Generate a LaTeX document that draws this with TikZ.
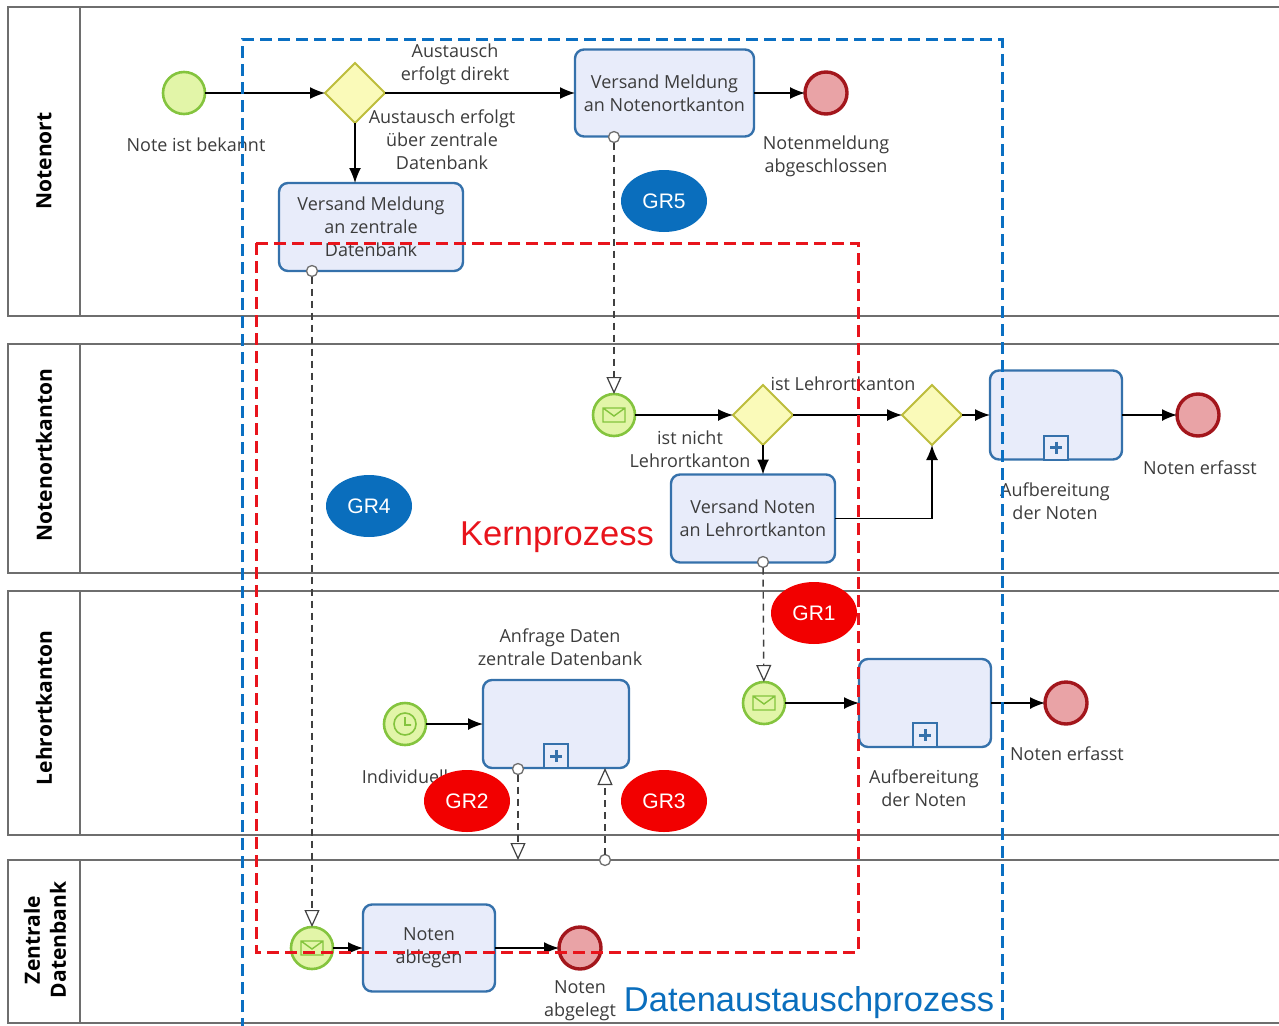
\documentclass[tikz,border=0pt]{standalone}
\usepackage{fontspec}
\setmainfont{Open Sans}
\newfontfamily\grfont{Liberation Sans}
\usetikzlibrary{positioning}
\usetikzlibrary{shapes.geometric,arrows.meta,calc}
\definecolor{poolgray}{HTML}{6E6E6E}
\definecolor{labelgray}{HTML}{3C3C3C}
\definecolor{msggray}{HTML}{404040}
\definecolor{startfill}{HTML}{E2F5A8}
\definecolor{startborder}{HTML}{84C43E}
\definecolor{endfill}{HTML}{E9A3A6}
\definecolor{endborder}{HTML}{A3161C}
\definecolor{gwfill}{HTML}{FAFAB9}
\definecolor{gwborder}{HTML}{BDBD3C}
\definecolor{taskfill}{HTML}{E8ECFA}
\definecolor{taskborder}{HTML}{3571AB}
\definecolor{blueframe}{HTML}{0A6FC2}
\definecolor{redframe}{HTML}{E8141C}
\definecolor{grblue}{HTML}{0A6EBD}
\definecolor{grred}{HTML}{F20000}
\newcommand{\eventsize}{42pt}
\newcommand{\gatewaysize}{60pt}
\newcommand{\taskheight}{88pt}
\newcommand{\subwidth}{132pt}
\newcommand{\grwidth}{86pt}
\newcommand{\grheight}{62pt}
\newcommand{\mailicon}[1]{%
  \draw[startborder, line width=1.4pt, shift={(#1.center)}]
    (-11,-7) rectangle (11,7) (-11,-7) -- (0,1) -- (11,-7);}
\newcommand{\clockicon}[1]{%
  \draw[startborder, line width=1.6pt, shift={(#1.center)}]
    (0,0) circle (11pt) (0,-7) -- (0,1) -- (6,1);}
\newcommand{\subplus}[1]{%
  \node[plusbox, anchor=south] (#1-plus) at (#1.south) {};
  \draw[taskborder, line width=3pt]
    ($(#1-plus.center)+(-6,0)$) -- ($(#1-plus.center)+(6,0)$)
    ($(#1-plus.center)+(0,-6)$) -- ($(#1-plus.center)+(0,6)$);}

\begin{document}
\begin{tikzpicture}[x=1pt, y=-1pt, node distance=4pt, outer sep=0pt,
    font=\fontsize{18}{23}\selectfont, text=labelgray]
\tikzstyle{pool}=[
    draw=poolgray,
    line width=1.6pt]
\tikzstyle{lanelabel}=[
    rotate=90,
    align=center,
    text=black,
    font=\bfseries\fontsize{21}{26}\selectfont]
\tikzstyle{startev}=[
    draw=startborder,
    fill=startfill,
    circle,
    line width=2.6pt,
    minimum size=\eventsize,
    inner sep=0pt]
\tikzstyle{endev}=[
    draw=endborder,
    fill=endfill,
    circle,
    line width=3.4pt,
    minimum size=\eventsize,
    inner sep=0pt]
\tikzstyle{gateway}=[
    draw=gwborder,
    fill=gwfill,
    diamond,
    line width=1.8pt,
    minimum width=\gatewaysize,
    minimum height=\gatewaysize,
    inner sep=0pt]
\tikzstyle{task}=[
    draw=taskborder,
    fill=taskfill,
    rectangle,
    rounded corners=9pt,
    line width=2.4pt,
    align=center,
    minimum height=\taskheight,
    inner sep=2pt]
\tikzstyle{plusbox}=[
    draw=taskborder,
    fill=taskfill,
    rectangle,
    line width=2pt,
    minimum size=24pt,
    inner sep=0pt]
\tikzstyle{bnd}=[
    draw=poolgray,
    fill=white,
    circle,
    line width=1.3pt,
    minimum size=11pt,
    inner sep=0pt]
\tikzstyle{lbl}=[
    align=center]
\tikzstyle{seq}=[
    draw=black,
    line width=1.5pt,
    -{Latex[length=15pt,width=12pt]}]
\tikzstyle{msg}=[
    draw=msggray,
    line width=1.4pt,
    dash pattern=on 7pt off 5pt,
    -{Triangle[length=17pt,width=15pt,fill=white,line width=1.2pt]}]
\tikzstyle{frame}=[
    line width=3pt,
    dash pattern=on 12pt off 6pt]
\tikzstyle{grb}=[
    ellipse,
    fill=grblue,
    minimum width=\grwidth,
    minimum height=\grheight,
    text=white,
    font=\grfont\fontsize{21}{21}\selectfont]
\tikzstyle{grr}=[
    grb,
    fill=grred]

\useasboundingbox (0,0) rectangle (1279,1025);

% pools
\draw[pool] (1279,7) -| (8,316) -- (1279,316);
\draw[pool] (80,7) -- (80,316);
\draw[pool] (1279,344) -| (8,573) -- (1279,573);
\draw[pool] (80,344) -- (80,573);
\draw[pool] (1279,591) -| (8,835) -- (1279,835);
\draw[pool] (80,591) -- (80,835);
\draw[pool] (1279,860) -| (8,1023) -- (1279,1023);
\draw[pool] (80,860) -- (80,1023);
\node[lanelabel] (lane1) at (44,161) {Notenort};
\node[lanelabel] (lane2) at (44,455) {Notenortkanton};
\node[lanelabel] (lane3) at (44,708) {Lehrortkanton};
\node[lanelabel] (lane4) at (45,940) {Zentrale\\Datenbank};

% Notenort
\node[startev] (start1) at (184,93) {};
\node[gateway] (gw1) at (355,93) {};
\node[task, minimum width=179pt, minimum height=87pt] (t1) at (664.5,93) {Versand Meldung\\an Notenortkanton};
\node[endev] (end1) at (826,93) {};
\node[task, minimum width=184pt] (t2) at (371,227) {Versand Meldung\\an zentrale\\Datenbank};
\node[bnd] (bnd1) at (614,137) {};
\node[bnd] (bnd2) at (312,271) {};
\node[lbl] (l1) at (196,145) {Note ist bekannt};
\node[lbl] (l2) at (455,64) {Austausch\\erfolgt direkt};
\node[lbl] (l3) at (442,140) {Austausch erfolgt\\über zentrale\\Datenbank};
\node[lbl] (l4) at (826,156) {Notenmeldung\\abgeschlossen};
\draw[seq] (start1) -- (gw1);
\draw[seq] (gw1) -- (t1);
\draw[seq] (t1) -- (end1);
\draw[seq] (gw1.south) -- (gw1.south |- t2.north);

% Notenortkanton
\node[startev] (msg2) at (614,415) {};
\mailicon{msg2}
\node[gateway] (gw2) at (763,415) {};
\node[gateway] (gw3) at (932,415) {};
\node[task, minimum width=\subwidth, minimum height=89pt] (s1) at (1056,415) {};
\subplus{s1}
\node[endev] (end2) at (1198,415) {};
\node[task, minimum width=164pt] (t3) at (753,518.5) {Versand Noten\\an Lehrortkanton};
\node[bnd] (bnd3) at (763,562) {};
\node[lbl] (l5) at (843,384) {ist Lehrortkanton};
\node[lbl] (l6) at (690,449) {ist nicht\\Lehrortkanton};
\node[lbl] (l7) at (1200,468) {Noten erfasst};
\node[lbl] (l8) at (1055,501) {Aufbereitung\\der Noten};
\draw[seq] (msg2) -- (gw2);
\draw[seq] (gw2) -- (gw3);
\draw[seq] (gw3) -- (s1);
\draw[seq] (s1) -- (end2);
\draw[seq] (gw2.south) -- (gw2.south |- t3.north);
\draw[seq] (t3.east) -| (gw3.south);

% Lehrortkanton
\node[startev] (timer) at (405,724) {};
\clockicon{timer}
\node[task, minimum width=146pt] (s3) at (556,724) {};
\subplus{s3}
\node[startev] (msg3) at (764,703) {};
\mailicon{msg3}
\node[task, minimum width=\subwidth] (s2) at (925,703) {};
\subplus{s2}
\node[endev] (end3) at (1066,703) {};
\node[bnd] (bnd4) at (518,769) {};
\node[lbl] (l9) at (560,647) {Anfrage Daten\\zentrale Datenbank};
\node[lbl] (l10) at (405,777) {Individuell};
\node[lbl] (l11) at (1067,754) {Noten erfasst};
\node[lbl] (l12) at (924,788) {Aufbereitung\\der Noten};
\draw[seq] (timer) -- (s3);
\draw[seq] (msg3) -- (s2);
\draw[seq] (s2) -- (end3);

% Zentrale Datenbank
\node[startev] (msg4) at (312,948) {};
\mailicon{msg4}
\node[task, minimum width=\subwidth, minimum height=87pt] (t4) at (429,948) {Noten\\ablegen};
\node[endev] (end4) at (580,948) {};
\node[bnd] (bnd5) at (605,860) {};
\coordinate (dbin) at (518,860);
\coordinate (s3in) at (605,768);
\node[lbl] (l13) at (580,1001) {Noten\\abgelegt};
\draw[seq] (msg4) -- (t4);
\draw[seq] (t4) -- (end4);

% message flows
\draw[msg] (bnd1) -- (msg2);
\draw[msg] (bnd3) -- (msg3);
\draw[msg] (bnd2) -- (msg4);
\draw[msg] (bnd4) -- (dbin);
\draw[msg] (bnd5) -- (s3in);

% frames
\draw[frame, draw=blueframe] (242,1030) |- (1002,40) -- (1002,1030);
\draw[frame, draw=redframe] (256,243) rectangle (858,952);
\node[text=redframe, font=\grfont\fontsize{34.5}{34.5}\selectfont] (kern) at (557,537) {Kernprozess};
\node[text=grblue, font=\grfont\fontsize{34.5}{34.5}\selectfont] (austausch) at (809,1003) {Datenaustauschprozess};

% GR
\node[grb] (gr5) at (664,201) {GR5};
\node[grb] (gr4) at (369,506) {GR4};
\node[grr] (gr1) at (814,613) {GR1};
\node[grr] (gr2) at (467,801) {GR2};
\node[grr] (gr3) at (664,801) {GR3};

\end{tikzpicture}
\end{document}
